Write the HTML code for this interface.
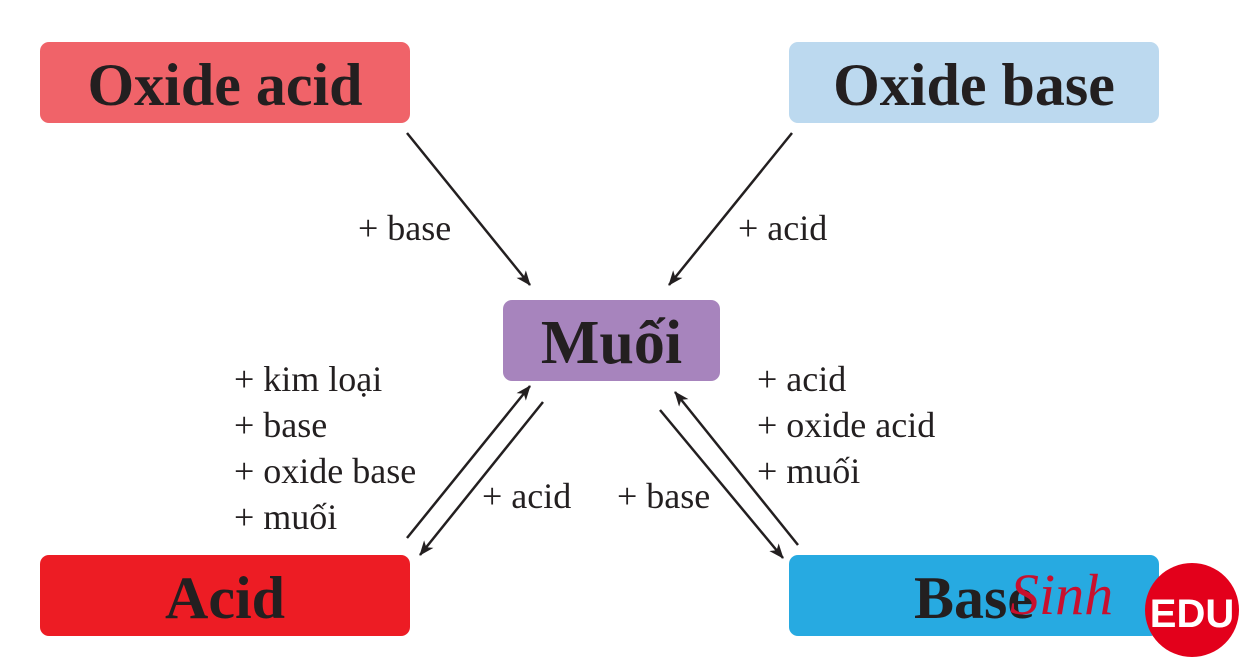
<!DOCTYPE html>
<html><head><meta charset="utf-8"><style>
body{margin:0;width:1245px;height:667px;background:#fff;overflow:hidden;position:relative;font-family:"Liberation Serif",serif}
.b{position:absolute;border-radius:9px;display:flex;align-items:center;justify-content:center;font-weight:bold;color:#231f20;font-size:60px;padding-top:6px;box-sizing:border-box}
.t{position:absolute;font-size:36px;color:#231f20;line-height:46px;white-space:nowrap}
</style></head><body>
<div class="b" style="left:40px;top:42px;width:370px;height:81px;background:#f06369">Oxide acid</div>
<div class="b" style="left:789px;top:42px;width:370px;height:81px;background:#bcd9ef">Oxide base</div>
<div class="b" style="left:503px;top:300px;width:217px;height:81px;background:#a784bd;font-size:62px">Muối</div>
<div class="b" style="left:40px;top:555px;width:370px;height:81px;background:#ed1c24">Acid</div>
<div class="b" style="left:789px;top:555px;width:370px;height:81px;background:#27aae1;justify-content:flex-start;padding-left:125px">Base</div>
<svg width="1245" height="667" style="position:absolute;left:0;top:0">
<defs><marker id="a" markerWidth="15" markerHeight="12" refX="14" refY="6" orient="auto" markerUnits="userSpaceOnUse"><path d="M0,0L15,6L0,12L4,6z" fill="#231f20"/></marker></defs>
<g stroke="#231f20" stroke-width="2.5" marker-end="url(#a)">
<line x1="407" y1="133" x2="530" y2="285"/>
<line x1="792" y1="133" x2="669" y2="285"/>
<line x1="407" y1="538" x2="530" y2="386"/>
<line x1="543" y1="402" x2="420" y2="555"/>
<line x1="660" y1="410" x2="783" y2="558"/>
<line x1="798" y1="545" x2="675" y2="392"/>
</g>
<circle cx="1192" cy="610" r="47" fill="#e3001b"/>
<text x="1192" y="627" text-anchor="middle" font-family="Liberation Sans,sans-serif" font-weight="bold" font-size="40" fill="#fff">EDU</text>
<text x="1010" y="614" font-family="Liberation Serif,serif" font-style="italic" font-size="58" fill="#c8102e">Sinh</text>
</svg>
<div class="t" style="left:358px;top:205px">+ base</div>
<div class="t" style="left:738px;top:205px">+ acid</div>
<div class="t" style="left:234px;top:356px">+ kim loại<br>+ base<br>+ oxide base<br>+ muối</div>
<div class="t" style="left:757px;top:356px">+ acid<br>+ oxide acid<br>+ muối</div>
<div class="t" style="left:482px;top:473px">+ acid</div>
<div class="t" style="left:617px;top:473px">+ base</div>
</body></html>
